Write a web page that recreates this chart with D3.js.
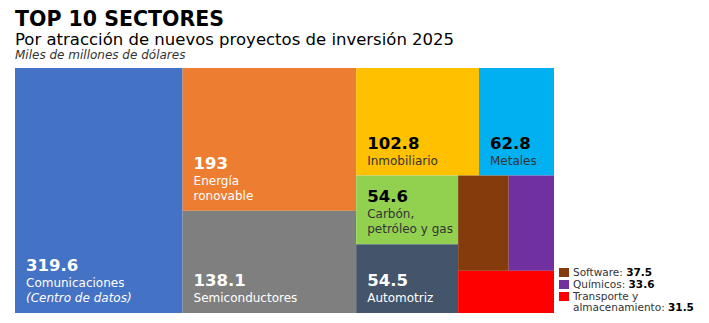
<!DOCTYPE html>
<html>
<head>
<meta charset="utf-8">
<script src="https://cdn.jsdelivr.net/npm/d3@7"></script>
<style>
  body { margin: 0; background: #fff; }
  text { font-family: "DejaVu Sans", sans-serif; }
</style>
</head>
<body>
<script>
let width = 709,
    height = 323;

// datos
let sectores = ["Comunicaciones", "Energía renovable", "Semiconductores", "Inmobiliario", "Metales",
                "Carbón, petróleo y gas", "Automotriz", "Software", "Químicos", "Transporte y almacenamiento"];
let valores = [319.6, 193, 138.1, 102.8, 62.8, 54.6, 54.5, 37.5, 33.6, 31.5];
let colores = ["#4472C4", "#ED7D31", "#7F7F7F", "#FFC000", "#00B0F0",
               "#92D050", "#44546A", "#843C0C", "#7030A0", "#FF0000"];
let etiquetas = [["Comunicaciones", "(Centro de datos)"], ["Energía", "ronovable"], ["Semiconductores"],
                 ["Inmobiliario"], ["Metales"], ["Carbón,", "petróleo y gas"], ["Automotriz"], [], [], []];
let leyenda = [7, 8, 9];
let leyendaTexto = [["Software: "], ["Químicos: "], ["Transporte y", "almacenamiento: "]];
let oscuros = [3, 4, 5];

// orden de los bloques en el mosaico
let grupos = [0, [1, 2], [[3, 4], [[5, 6], [[7, 8], 9]]]];

let margin = {top: 68, left: 15};
let tw = 539, th = 245;

let svg = d3.select("body")
    .append("svg")
    .attr("width", width)
    .attr("height", height);

svg.append("text")
    .attr("x", 15).attr("y", 26)
    .style("font-size", "20.5px")
    .style("font-weight", "bold")
    .text("TOP 10 SECTORES");

svg.append("text")
    .attr("x", 15).attr("y", 45)
    .style("font-size", "16.5px")
    .text("Por atracción de nuevos proyectos de inversión 2025");

svg.append("text")
    .attr("x", 15).attr("y", 58.5)
    .style("font-size", "12px")
    .style("font-style", "italic")
    .attr("fill", "#333")
    .text("Miles de millones de dólares");

function build(g) {
  return Array.isArray(g) ? {children: g.map(build)} : {i: g};
}

let root = d3.hierarchy(build(grupos))
    .sum(d => d.i !== undefined ? valores[d.i] : 0);

d3.treemap()
    .tile(d3.treemapSliceDice)
    .size([tw, th])(root);

let g = svg.append("g")
    .attr("transform", "translate(" + margin.left + "," + margin.top + ")");

let cells = g.selectAll("g.cell")
    .data(root.leaves())
    .enter()
    .append("g")
    .attr("class", "cell");

cells.append("rect")
    .attr("x", d => d.x0)
    .attr("y", d => d.y0)
    .attr("width", d => d.x1 - d.x0)
    .attr("height", d => d.y1 - d.y0)
    .attr("fill", d => colores[d.data.i]);

cells.each(function(d) {
  let i = d.data.i;
  let lines = etiquetas[i];
  if (!lines.length) return;
  let dark = oscuros.includes(i);
  let cell = d3.select(this);
  let x = d.x0 + 11;
  let yLast = d.y1 - 11;
  let y0 = yLast - (lines.length - 1) * 15;

  cell.append("text")
      .attr("x", x)
      .attr("y", y0 - 16)
      .attr("fill", dark ? "#000" : "#fff")
      .style("font-size", "16.5px")
      .style("font-weight", "bold")
      .text(valores[i]);

  lines.forEach((t, k) => {
    cell.append("text")
        .attr("x", x)
        .attr("y", y0 + k * 15)
        .attr("fill", dark ? "#333" : "#fff")
        .style("font-size", "12px")
        .style("font-style", t.startsWith("(") ? "italic" : "normal")
        .text(t);
  });
});

// leyenda
let ley = svg.append("g").attr("transform", "translate(559,268)");

leyenda.forEach((i, k) => {
  ley.append("rect")
      .attr("x", 0)
      .attr("y", k * 12)
      .attr("width", 10)
      .attr("height", 9)
      .attr("fill", colores[i]);

  let lines = leyendaTexto[k];
  lines.forEach((t, j) => {
    let txt = ley.append("text")
        .attr("x", 14)
        .attr("y", k * 12 + 8 + j * 11)
        .attr("fill", "#333")
        .style("font-size", "10.5px");
    txt.append("tspan").text(t);
    if (j === lines.length - 1) {
      txt.append("tspan")
          .attr("fill", "#000")
          .style("font-weight", "bold")
          .text(valores[i]);
    }
  });
});
</script>
</body>
</html>
